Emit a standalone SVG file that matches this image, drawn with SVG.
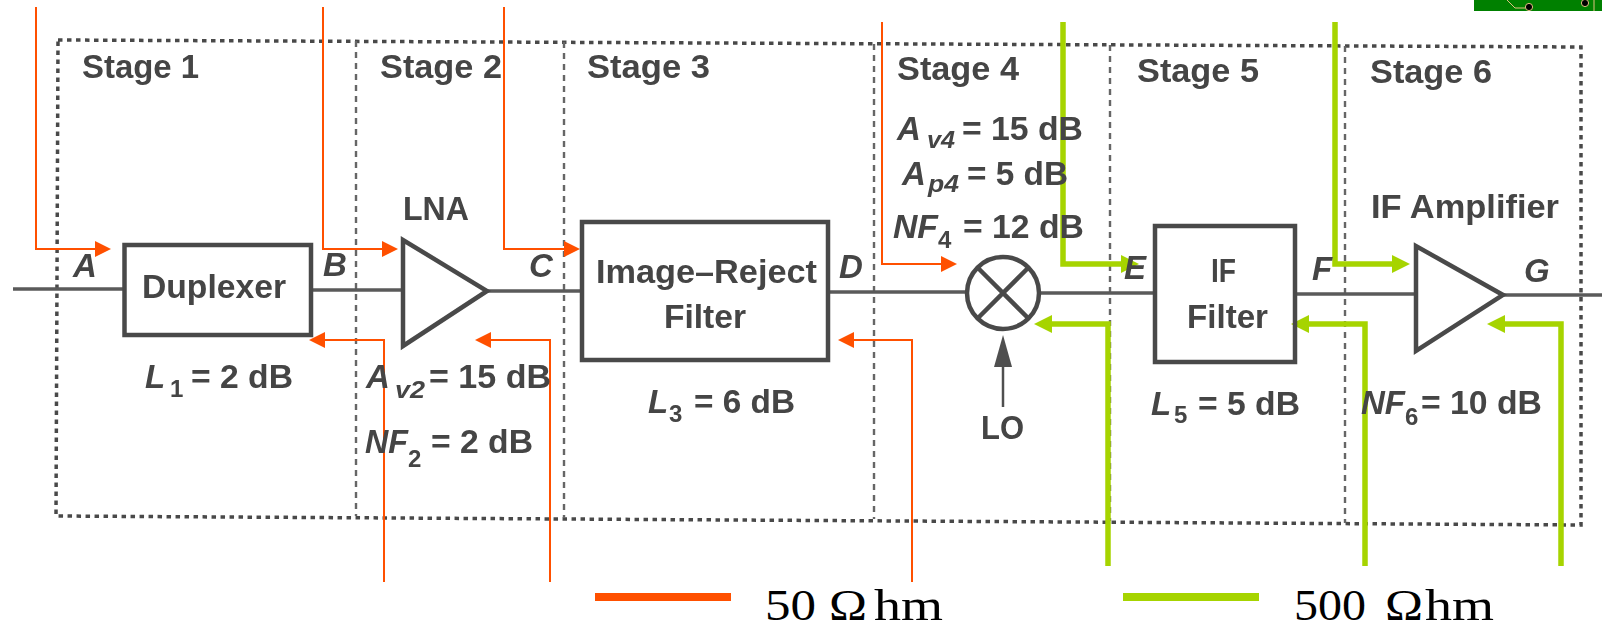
<svg xmlns="http://www.w3.org/2000/svg" width="1602" height="629" viewBox="0 0 1602 629">
<style>
.scan{filter:url(#soft)}
text{font-family:"Liberation Sans",Arial,sans-serif;font-weight:700;fill:#444;font-size:33px}
.i{font-style:italic}
.s{font-size:24px}
.box{fill:none;stroke:#4a4a4a;stroke-width:4.5}
.wire{fill:none;stroke:#5a5a5a;stroke-width:3.5}
.lo{fill:none;stroke:#505050;stroke-width:2.5}
.frame{fill:none;stroke:#4a4a4a;stroke-width:3.5;stroke-dasharray:4.5 4.5}
.div{fill:none;stroke:#666;stroke-width:2.4;stroke-dasharray:6 5}
.o{fill:none;stroke:#ff5000;stroke-width:2}
.g{fill:none;stroke:#a6d400;stroke-width:5.5}
.leg{font-family:"Liberation Serif","Times New Roman",serif;font-weight:400;font-size:44px;fill:#000}
</style>
<defs>
<filter id="soft" filterUnits="userSpaceOnUse" x="0" y="0" width="1602" height="629"><feGaussianBlur stdDeviation="0.7"/></filter>
<marker id="ao" markerUnits="userSpaceOnUse" markerWidth="16" markerHeight="16" viewBox="0 0 16 16" refX="0" refY="8" orient="auto"><path d="M0 0L16 8L0 16Z" fill="#ff5000"/></marker>
<marker id="ag" markerUnits="userSpaceOnUse" markerWidth="18" markerHeight="18" viewBox="0 0 18 18" refX="0" refY="9" orient="auto"><path d="M0 0L18 9L0 18Z" fill="#a6d400"/></marker>
<marker id="ak" markerUnits="userSpaceOnUse" markerWidth="32" markerHeight="18" viewBox="0 0 32 18" refX="0" refY="9" orient="auto"><path d="M0 0L32 9L0 18Z" fill="#505050"/></marker>
</defs>

<g id="badge">
<rect x="1474" y="0" width="128" height="11" fill="#008000"/>
<path d="M1507 0L1515 8H1526M1594 0V11" fill="none" stroke="#e0c080" stroke-width="1"/>
<circle cx="1529" cy="7" r="3.6" fill="#000" stroke="#e0c080"/>
<circle cx="1585" cy="3" r="3.6" fill="#000" stroke="#e0c080"/>
</g>

<g id="stage-frames" class="scan">
<path class="frame" d="M58 40L1581 47V525L56 516Z"/>
<path class="div" d="M356 41V516"/>
<path class="div" d="M564 42V518"/>
<path class="div" d="M874 44V519"/>
<path class="div" d="M1110 45V521"/>
<path class="div" d="M1345 46V523"/>
<text x="82" y="78" textLength="117" lengthAdjust="spacingAndGlyphs">Stage 1</text>
<text x="380" y="78" textLength="122" lengthAdjust="spacingAndGlyphs">Stage 2</text>
<text x="587" y="78" textLength="123" lengthAdjust="spacingAndGlyphs">Stage 3</text>
<text x="897" y="80" textLength="122" lengthAdjust="spacingAndGlyphs">Stage 4</text>
<text x="1137" y="82" textLength="122" lengthAdjust="spacingAndGlyphs">Stage 5</text>
<text x="1370" y="83" textLength="122" lengthAdjust="spacingAndGlyphs">Stage 6</text>
</g>

<g id="connectors">
<g id="signal-path" class="scan">
<path class="wire" d="M13 289H124"/>
<path class="wire" d="M311 290H403"/>
<path class="wire" d="M487 291H582"/>
<path class="wire" d="M828 292H966"/>
<path class="wire" d="M1040 293H1155"/>
<path class="wire" d="M1295 294H1416"/>
<path class="wire" d="M1503 295H1602"/>
<path class="lo" d="M1003 407V367" marker-end="url(#ak)"/>
</g>
<g id="impedance-50">
<path class="o" d="M36 7V249H95" marker-end="url(#ao)"/>
<path class="o" d="M323 7V249H382" marker-end="url(#ao)"/>
<path class="o" d="M504 7V249H564" marker-end="url(#ao)"/>
<path class="o" d="M882 22V264H941" marker-end="url(#ao)"/>
<path class="o" d="M384 582V340H325" marker-end="url(#ao)"/>
<path class="o" d="M550 582V340H491" marker-end="url(#ao)"/>
<path class="o" d="M912 582V340H854" marker-end="url(#ao)"/>
</g>
<g id="impedance-500">
<path class="g" d="M1063 22V264H1121" marker-end="url(#ag)"/>
<path class="g" d="M1335 22V264H1392" marker-end="url(#ag)"/>
<path class="g" d="M1108 566V324H1052" marker-end="url(#ag)"/>
<path class="g" d="M1365 566V324H1309" marker-end="url(#ag)"/>
<path class="g" d="M1561 566V324H1505" marker-end="url(#ag)"/>
</g>
</g>

<g id="port-labels" class="scan">
<text class="i" x="73" y="277">A</text>
<text class="i" x="323" y="276">B</text>
<text class="i" x="529" y="277">C</text>
<text class="i" x="839" y="278">D</text>
<text class="i" x="1124" y="279">E</text>
<text class="i" x="1312" y="280">F</text>
<text class="i" x="1524" y="282">G</text>
</g>

<g id="duplexer" class="scan">
<rect class="box" x="124.500" y="245" width="186.500" height="90"/>
<text x="142" y="298" textLength="144" lengthAdjust="spacingAndGlyphs">Duplexer</text>
<text class="i" x="145" y="388">L</text><text class="s" x="170" y="397">1</text>
<text x="191" y="388" textLength="102" lengthAdjust="spacingAndGlyphs">= 2 dB</text>
</g>

<g id="lna" class="scan">
<path class="box" d="M403 240V346L487 291Z"/>
<text x="403" y="220" textLength="66" lengthAdjust="spacingAndGlyphs">LNA</text>
<text class="i" x="366" y="388">A</text><text class="s i" x="395" y="398" textLength="30" lengthAdjust="spacingAndGlyphs">v2</text>
<text x="429" y="388" textLength="122" lengthAdjust="spacingAndGlyphs">= 15 dB</text>
<text class="i" x="365" y="453" textLength="43" lengthAdjust="spacingAndGlyphs">NF</text><text class="s" x="408" y="467">2</text>
<text x="431" y="453" textLength="102" lengthAdjust="spacingAndGlyphs">= 2 dB</text>
</g>

<g id="image-reject-filter" class="scan">
<rect class="box" x="582" y="222" width="246" height="138"/>
<text x="596" y="283" textLength="221" lengthAdjust="spacingAndGlyphs">Image–Reject</text>
<text x="664" y="328" textLength="82" lengthAdjust="spacingAndGlyphs">Filter</text>
<text class="i" x="648" y="413">L</text><text class="s" x="669" y="422">3</text>
<text x="694" y="413" textLength="101" lengthAdjust="spacingAndGlyphs">= 6 dB</text>
</g>

<g id="mixer" class="scan">
<circle class="box" cx="1003" cy="293" r="36"/>
<path class="box" d="M978 268L1028 318M1028 268L978 318"/>
<text x="981" y="439" textLength="43" lengthAdjust="spacingAndGlyphs">LO</text>
<text class="i" x="897" y="140">A</text><text class="s i" x="927" y="148" textLength="28" lengthAdjust="spacingAndGlyphs">v4</text>
<text x="962" y="140" textLength="121" lengthAdjust="spacingAndGlyphs">= 15 dB</text>
<text class="i" x="902" y="185">A</text><text class="s i" x="928" y="192" textLength="31" lengthAdjust="spacingAndGlyphs">p4</text>
<text x="967" y="185" textLength="101" lengthAdjust="spacingAndGlyphs">= 5 dB</text>
<text class="i" x="893" y="238" textLength="45" lengthAdjust="spacingAndGlyphs">NF</text><text class="s" x="938" y="248">4</text>
<text x="963" y="238" textLength="121" lengthAdjust="spacingAndGlyphs">= 12 dB</text>
</g>

<g id="if-filter" class="scan">
<rect class="box" x="1155" y="226" width="140" height="136"/>
<text x="1211" y="282" textLength="25" lengthAdjust="spacingAndGlyphs">IF</text>
<text x="1187" y="328" textLength="81" lengthAdjust="spacingAndGlyphs">Filter</text>
<text class="i" x="1151" y="415">L</text><text class="s" x="1174" y="423">5</text>
<text x="1198" y="415" textLength="102" lengthAdjust="spacingAndGlyphs">= 5 dB</text>
</g>

<g id="if-amplifier" class="scan">
<path class="box" d="M1416 246V351L1503 295Z"/>
<text x="1371" y="218" textLength="188" lengthAdjust="spacingAndGlyphs">IF Amplifier</text>
<text class="i" x="1361" y="414" textLength="44" lengthAdjust="spacingAndGlyphs">NF</text><text class="s" x="1405" y="425">6</text>
<text x="1421" y="414" textLength="121" lengthAdjust="spacingAndGlyphs">= 10 dB</text>
</g>

<g id="legend">
<rect x="595" y="593" width="136" height="8" fill="#ff5000"/>
<text class="leg" x="765" y="619.500"><tspan textLength="51" lengthAdjust="spacingAndGlyphs">50</tspan> <tspan x="829" textLength="38" lengthAdjust="spacingAndGlyphs">Ω</tspan><tspan x="874" textLength="69" lengthAdjust="spacingAndGlyphs">hm</tspan></text>
<rect x="1123" y="593" width="136" height="8" fill="#a6d400"/>
<text class="leg" x="1294" y="619.500"><tspan textLength="72" lengthAdjust="spacingAndGlyphs">500</tspan> <tspan x="1385" textLength="38" lengthAdjust="spacingAndGlyphs">Ω</tspan><tspan x="1425" textLength="69" lengthAdjust="spacingAndGlyphs">hm</tspan></text>
</g>
</svg>
